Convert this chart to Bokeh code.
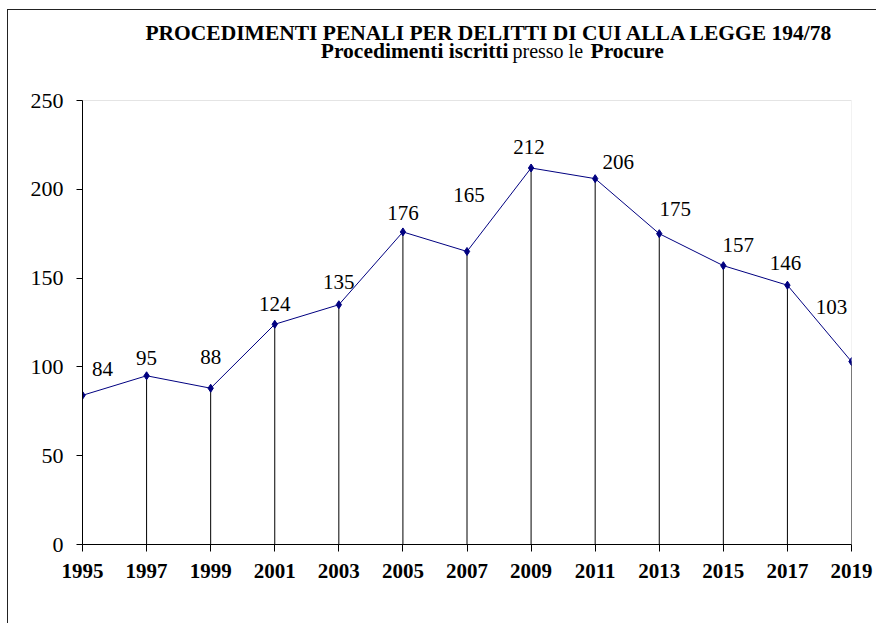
from bokeh.plotting import figure
from bokeh.models import Range1d, FixedTicker, Label, ColumnDataSource, BoxAnnotation
from bokeh.core.properties import value
from bokeh.embed import file_html
from bokeh.resources import INLINE

years = [1995, 1997, 1999, 2001, 2003, 2005, 2007, 2009, 2011, 2013, 2015, 2017, 2019]
counts = [84, 95, 88, 124, 135, 176, 165, 212, 206, 175, 157, 146, 103]
y_ticks = [0, 50, 100, 150, 200, 250]

# label placement offsets (pixels) for the data labels
lab_dx = [20, 0, 0, 0, 0, 0, 2, -2, 23, 16, 15, -2, -20]
lab_dy = [26, 18, 31, 20, 23, 19, 56, 21, 17, 25, 21, 22, 55]

SERIF = "Liberation Serif"
TITLE_SIZE = "21.5px"

# layout: plot area is 444 px tall; the frame is extended 90 px upward to host the titles
PLOT_H = 444
TOP_PAD = 90
y_top = y_ticks[-1] * (PLOT_H + TOP_PAD) / PLOT_H

p = figure(width=869, height=614, output_backend="svg", toolbar_location=None,
           x_range=Range1d(years[0], years[-1]), y_range=Range1d(0, y_top),
           min_border_left=74, min_border_right=26, min_border_top=0, min_border_bottom=80)
p.styles = {"border-top": "1px solid #222222", "border-left": "1px solid #222222",
            "margin-top": "9px", "margin-left": "7px"}
p.grid.visible = False
p.outline_line_color = None
p.background_fill_color = "white"
p.border_fill_color = "white"

# plot-area border (light gray)
box = BoxAnnotation(left=years[0], right=years[-1], bottom=0, top=y_ticks[-1],
                    fill_alpha=0, line_color="#a6a6a6", line_width=1, level="underlay")
p.add_layout(box)

# axes
p.xaxis.ticker = FixedTicker(ticks=years)
p.xaxis.major_label_text_font = SERIF
p.xaxis.major_label_text_font_style = "bold"
p.xaxis.major_label_text_font_size = "21px"
p.xaxis.major_label_text_color = "black"
p.xaxis.major_tick_in = 0
p.xaxis.major_tick_out = 7
p.xaxis.minor_tick_line_color = None
p.xaxis.axis_line_color = "black"
p.xaxis.major_tick_line_color = "black"
p.xaxis.major_label_standoff = 12

p.yaxis.ticker = FixedTicker(ticks=y_ticks)
p.yaxis.bounds = (y_ticks[0], y_ticks[-1])
p.yaxis.major_label_text_font = SERIF
p.yaxis.major_label_text_font_size = "22px"
p.yaxis.major_label_text_color = "black"
p.yaxis.major_tick_in = 0
p.yaxis.major_tick_out = 6
p.yaxis.minor_tick_line_color = None
p.yaxis.axis_line_color = "black"
p.yaxis.major_tick_line_color = "black"
p.yaxis.major_label_standoff = 13

src = ColumnDataSource(dict(x=years, y=counts, y0=[0] * len(years),
                            lab=[str(c) for c in counts], dx=lab_dx,
                            dy=[-d for d in lab_dy]))

p.segment(x0="x", y0="y0", x1="x", y1="y", source=src, line_color="black", line_width=1)
p.line(x="x", y="y", source=src, line_color="#000080", line_width=1)
p.scatter(x="x", y="y", source=src, marker="diamond", size=8,
          fill_color="#000080", line_color="#000080")
p.text(x="x", y="y", text="lab", source=src, x_offset="dx", y_offset="dy",
       text_align="center", text_baseline="middle",
       text_font=value(SERIF), text_font_size="21px", text_color="black")

# titles (screen units relative to the plot frame, y upwards from its bottom)
t1 = Label(x=407, y=512, x_units="screen", y_units="screen",
           text="PROCEDIMENTI PENALI PER DELITTI DI CUI ALLA LEGGE 194/78",
           text_font=SERIF, text_font_style="bold", text_font_size=TITLE_SIZE,
           text_align="center", text_baseline="alphabetic", text_color="black")
t2a = Label(x=426, y=494, x_units="screen", y_units="screen",
            text="Procedimenti iscritti", text_font=SERIF, text_font_style="bold",
            text_font_size=TITLE_SIZE, text_align="right", text_baseline="alphabetic",
            text_color="black")
t2b = Label(x=430, y=494, x_units="screen", y_units="screen",
            text="presso le", text_font=SERIF, text_font_style="normal",
            text_font_size="20px", text_align="left", text_baseline="alphabetic",
            text_color="black")
t2c = Label(x=508, y=494, x_units="screen", y_units="screen",
            text="Procure", text_font=SERIF, text_font_style="bold",
            text_font_size=TITLE_SIZE, text_align="left", text_baseline="alphabetic",
            text_color="black")
for t in (t1, t2a, t2b, t2c):
    p.add_layout(t)

open("out.html", "w").write(file_html(p, INLINE))
